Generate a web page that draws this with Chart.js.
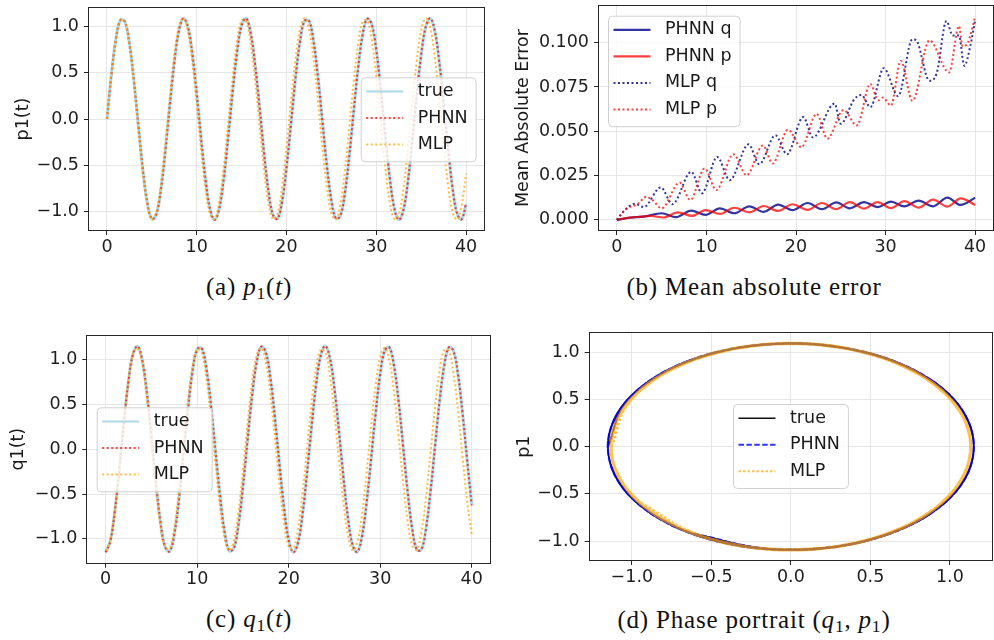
<!DOCTYPE html>
<html>
<head>
<meta charset="utf-8">
<script src="https://cdn.jsdelivr.net/npm/chart.js@4.4.1/dist/chart.umd.min.js"></script>
<style>
  html, body { margin: 0; padding: 0; background: #fff; }
  body { width: 994px; height: 640px; position: relative; overflow: hidden; }
  canvas { position: absolute; }
  .cap { position: absolute; transform: translate(-50%, -50%); font-family: 'Liberation Serif', serif; font-size: 25px; letter-spacing: 0.8px; color: #111; white-space: nowrap; }
  .cap sub { font-size: 0.7em; vertical-align: -0.25em; line-height: 0; }
</style>
</head>
<body>
<canvas id="chartA" width="497" height="262" style="left:0px;top:0px"></canvas>
<canvas id="chartB" width="497" height="262" style="left:497px;top:0px"></canvas>
<canvas id="chartC" width="497" height="275" style="left:0px;top:320px"></canvas>
<canvas id="chartD" width="497" height="275" style="left:497px;top:320px"></canvas>

<div class="cap" style="left:249px;top:287px">(a) <i>p</i><sub>1</sub>(<i>t</i>)</div>
<div class="cap" style="left:754px;top:287px">(b) Mean absolute error</div>
<div class="cap" style="left:249px;top:619px">(c) <i>q</i><sub>1</sub>(<i>t</i>)</div>
<div class="cap" style="left:754px;top:620px">(d) Phase portrait (<i>q</i><sub>1</sub>, <i>p</i><sub>1</sub>)</div>

<script>
// time samples (step 0.5)
const tAxis = [0,0.5,1,1.5,2,2.5,3,3.5,4,4.5,5,5.5,6,6.5,7,7.5,8,8.5,9,9.5,
  10,10.5,11,11.5,12,12.5,13,13.5,14,14.5,15,15.5,16,16.5,17,17.5,18,18.5,19,19.5,
  20,20.5,21,21.5,22,22.5,23,23.5,24,24.5,25,25.5,26,26.5,27,27.5,28,28.5,29,29.5,
  30,30.5,31,31.5,32,32.5,33,33.5,34,34.5,35,35.5,36,36.5,37,37.5,38,38.5,39,39.5,40];

// p1(t)
const trueP1 = [0.000,0.483,0.866,1.069,1.052,0.818,0.414,-0.075,-0.549,-0.909,
  -1.081,-1.030,-0.766,-0.344,0.149,0.612,0.948,1.088,1.003,0.711,
  0.272,-0.223,-0.673,-0.983,-1.090,-0.972,-0.653,-0.199,0.296,0.730,
  1.013,1.087,0.935,0.591,0.125,-0.368,-0.784,-1.038,-1.078,-0.895,
  -0.527,-0.050,0.437,0.834,1.059,1.064,0.850,0.460,-0.025,-0.505,
  -0.880,-1.074,-1.046,-0.801,-0.391,0.100,0.570,0.922,1.084,1.022,
  0.748,0.320,-0.174,-0.633,-0.960,-1.089,-0.993,-0.692,-0.248,0.248,
  0.692,0.993,1.089,0.960,0.633,0.174,-0.320,-0.748,-1.022,-1.084,-0.922];
const phnnP1 = [0.000,0.483,0.866,1.069,1.052,0.818,0.414,-0.075,-0.549,-0.909,
  -1.081,-1.030,-0.766,-0.344,0.149,0.612,0.948,1.088,1.003,0.711,
  0.272,-0.223,-0.673,-0.983,-1.090,-0.972,-0.653,-0.199,0.296,0.730,
  1.013,1.087,0.935,0.591,0.125,-0.368,-0.784,-1.038,-1.078,-0.895,
  -0.527,-0.050,0.437,0.834,1.059,1.064,0.850,0.460,-0.025,-0.505,
  -0.880,-1.074,-1.046,-0.801,-0.391,0.100,0.570,0.922,1.084,1.022,
  0.748,0.320,-0.174,-0.633,-0.960,-1.089,-0.993,-0.692,-0.248,0.248,
  0.692,0.993,1.089,0.960,0.633,0.174,-0.320,-0.748,-1.022,-1.084,-0.915];
const mlpP1 = [0.000,0.488,0.873,1.073,1.046,0.798,0.381,-0.116,-0.589,-0.937,
  -1.087,-1.007,-0.714,-0.270,0.232,0.684,0.991,1.089,0.957,0.622,
  0.155,-0.344,-0.771,-1.034,-1.079,-0.896,-0.523,-0.039,0.452,0.848,
  1.065,1.056,0.824,0.418,-0.077,-0.556,-0.917,-1.084,-1.021,-0.743,
  -0.308,0.193,0.653,0.974,1.090,0.975,0.654,0.194,-0.306,-0.742,
  -1.021,-1.084,-0.918,-0.557,-0.079,0.416,0.823,1.056,1.065,0.849,
  0.454,-0.038,-0.521,-0.895,-1.079,-1.035,-0.772,-0.345,0.154,0.621,
  0.956,1.089,0.992,0.685,0.233,-0.268,-0.713,-1.007,-1.087,-0.938,-0.591];

// q1(t)
const trueQ1 = [-1.150,-1.031,-0.699,-0.223,0.300,0.760,1.064,1.147,0.994,0.635,
  0.145,-0.375,-0.818,-1.091,-1.139,-0.952,-0.567,-0.066,0.449,0.872,
  1.114,1.126,0.905,0.497,-0.013,-0.521,-0.921,-1.131,-1.107,-0.854,
  -0.425,0.092,0.590,0.966,1.142,1.083,0.799,0.350,-0.171,-0.657,
  -1.007,-1.149,-1.053,-0.741,-0.274,0.249,0.720,1.043,1.150,1.019,
  0.678,0.197,-0.325,-0.780,-1.073,-1.145,-0.980,-0.613,-0.118,0.400,
  0.836,1.099,1.135,0.936,0.544,0.040,-0.473,-0.889,-1.120,-1.120,
  -0.888,-0.473,0.040,0.544,0.936,1.135,1.099,0.836,0.400,-0.118,-0.613];
const phnnQ1 = [-1.150,-1.031,-0.699,-0.223,0.300,0.760,1.064,1.147,0.994,0.635,
  0.145,-0.375,-0.818,-1.091,-1.139,-0.952,-0.567,-0.066,0.449,0.872,
  1.114,1.126,0.905,0.497,-0.013,-0.521,-0.921,-1.131,-1.107,-0.854,
  -0.425,0.092,0.590,0.966,1.142,1.083,0.799,0.350,-0.171,-0.657,
  -1.007,-1.149,-1.053,-0.741,-0.274,0.249,0.720,1.043,1.150,1.019,
  0.678,0.197,-0.325,-0.780,-1.073,-1.145,-0.980,-0.613,-0.118,0.400,
  0.836,1.099,1.135,0.936,0.544,0.040,-0.473,-0.889,-1.120,-1.120,
  -0.888,-0.473,0.040,0.544,0.936,1.135,1.099,0.836,0.400,-0.118,-0.625];
const mlpQ1 = [-1.130,-1.010,-0.677,-0.201,0.318,0.770,1.059,1.124,0.951,0.577,
  0.081,-0.432,-0.854,-1.095,-1.104,-0.880,-0.470,0.040,0.541,0.928,
  1.118,1.072,0.799,0.357,-0.160,-0.644,-0.992,-1.129,-1.028,-0.710,
  -0.241,0.279,0.739,1.044,1.127,0.972,0.611,0.122,-0.394,-0.827,
  -1.084,-1.112,-0.905,-0.506,-0.001,0.505,0.904,1.112,1.084,0.828,
  0.396,-0.120,-0.610,-0.971,-1.127,-1.044,-0.741,-0.281,0.239,0.708,
  1.027,1.129,0.992,0.645,0.162,-0.356,-0.798,-1.072,-1.119,-0.929,
  -0.543,-0.042,0.468,0.879,1.104,1.095,0.855,0.434,-0.079,-0.575,-0.950];

// mean absolute error (read at turning points)
const maePhnnQT = [0,1.5,3.0,5.0,6.6,8.3,9.9,11.5,13.1,14.8,16.4,18.0,19.6,21.3,22.9,24.5,26.0,27.6,29.1,30.6,32.1,33.7,35.3,36.9,38.4,40.0];
const maePhnnQ = [0,0.0012,0.0018,0.0037,0.0015,0.0052,0.0028,0.0065,0.0037,0.0076,0.0045,0.0086,0.0055,0.0095,0.0060,0.0098,0.0065,0.0100,0.0072,0.0103,0.0076,0.0108,0.0076,0.0125,0.0084,0.0125];
const maePhnnPT = [0,1.5,3.0,3.8,5.2,6.8,8.4,9.9,11.5,13.1,14.8,16.4,18.0,19.6,21.3,22.9,24.5,26.0,27.6,29.1,30.6,32.1,33.7,35.3,36.9,38.4,40.0];
const maePhnnP = [0,0.0013,0.0019,0.0022,0.0013,0.0042,0.0022,0.0055,0.0033,0.0068,0.0042,0.0078,0.0050,0.0088,0.0056,0.0095,0.0060,0.0100,0.0063,0.0100,0.0066,0.0106,0.0069,0.0114,0.0075,0.0121,0.0084];
const maeMlpQT = [0,0.9,2.0,3.0,4.9,6.2,8.3,9.5,11.2,12.6,14.7,15.9,17.7,19.0,20.8,21.9,24.3,25.0,26.5,27.3,28.3,29.8,31.4,33.0,33.4,34.9,35.7,36.8,37.5,38.2,38.8,39.5,40.0];
const maeMlpQ = [0,0.0056,0.0090,0.0072,0.0183,0.0088,0.0271,0.0150,0.0355,0.0224,0.0426,0.0314,0.0477,0.0370,0.0580,0.0465,0.0656,0.0542,0.0680,0.0705,0.0636,0.0856,0.0698,0.1019,0.1015,0.0785,0.0825,0.1122,0.1040,0.1040,0.0869,0.0990,0.1125];
const maeMlpPT = [0,0.7,1.5,2.2,3.3,4.0,5.0,7.0,8.2,9.8,11.1,13.0,14.5,16.3,17.4,19.1,20.6,22.3,23.5,25.3,26.8,28.3,29.2,29.7,30.6,31.7,33.0,34.9,37.1,38.2,38.6,39.2,40.0];
const maeMlpP = [0,0.0045,0.0075,0.0085,0.0130,0.0110,0.0065,0.0210,0.0112,0.0290,0.0168,0.0370,0.0252,0.0420,0.0318,0.0509,0.0410,0.0598,0.0458,0.0620,0.0533,0.0767,0.0675,0.0690,0.0645,0.0897,0.0672,0.1013,0.0832,0.1094,0.0980,0.1000,0.1145];

// ticks
const timeTicks = [0, 10, 20, 30, 40];
const timeTickLabels = ['0', '10', '20', '30', '40'];
const unitTicks = [-1, -0.5, 0, 0.5, 1];
const unitTickLabels = ['\u22121.0', '\u22120.5', '0.0', '0.5', '1.0'];
const maeTicks = [0, 0.025, 0.05, 0.075, 0.1];
const maeTickLabels = ['0.000', '0.025', '0.050', '0.075', '0.100'];

const FONT_SIZE = 17.5;
Chart.defaults.font.family = "'DejaVu Sans', sans-serif";
Chart.defaults.font.size = FONT_SIZE;
Chart.defaults.color = '#1e1e1e';

function pairs(xs, ys) {
    return xs.map((x, i) => ({ x: x, y: ys[i] }));
}

// black box round the plot area
const frame = {
    id: 'frame',
    afterDatasetsDraw(chart) {
        const { ctx, chartArea: a } = chart;
        const l = Math.round(a.left), t = Math.round(a.top), r = Math.round(a.right), b = Math.round(a.bottom);
        ctx.save();
        ctx.strokeStyle = '#262626';
        ctx.lineWidth = 1;
        ctx.strokeRect(l - 0.5, t - 0.5, r - l + 1, b - t + 1);
        ctx.restore();
    }
};

// legend box drawn inside the axes, like matplotlib
const insideLegend = {
    id: 'insideLegend',
    afterDraw(chart, args, opts) {
        if (!opts || opts.x === undefined) return;
        const ctx = chart.ctx;
        const items = chart.data.datasets;
        ctx.save();
        ctx.font = FONT_SIZE + "px 'DejaVu Sans'";
        const textW = Math.max(...items.map(d => ctx.measureText(d.label).width));
        const rowH = 26.5;
        const w = 57 + textW + 8;
        const h = 14.2 + (items.length - 1) * rowH + 16.8;
        ctx.beginPath();
        if (ctx.roundRect) ctx.roundRect(opts.x + 0.5, opts.y + 0.5, w, h, 4);
        else ctx.rect(opts.x + 0.5, opts.y + 0.5, w, h);
        ctx.fillStyle = 'rgba(255,255,255,0.8)';
        ctx.fill();
        ctx.strokeStyle = '#d0d0d0';
        ctx.lineWidth = 1;
        ctx.stroke();
        items.forEach((d, i) => {
            const cy = opts.y + 14.2 + i * rowH;
            ctx.beginPath();
            ctx.setLineDash(d.borderDash || []);
            ctx.strokeStyle = d.borderColor;
            ctx.lineWidth = d.legendWidth || d.borderWidth;
            ctx.moveTo(opts.x + 5.5, cy);
            ctx.lineTo(opts.x + 42.5, cy);
            ctx.stroke();
            ctx.setLineDash([]);
            ctx.fillStyle = '#1a1a1a';
            ctx.textBaseline = 'middle';
            ctx.fillText(d.label, opts.x + 57, cy);
        });
        ctx.restore();
    }
};

function makeChart(id, datasets, o) {
    const gridOpts = { color: '#e6e6e6', lineWidth: 1, tickColor: '#262626', tickLength: 5, tickWidth: 1 };
    return new Chart(document.getElementById(id), {
        type: 'line',
        data: { datasets: datasets },
        options: {
            responsive: false,
            animation: false,
            devicePixelRatio: 1,
            events: [],
            layout: { padding: o.pad },
            elements: { point: { radius: 0 } },
            plugins: {
                legend: { display: false },
                tooltip: { enabled: false },
                insideLegend: o.legend
            },
            scales: {
                x: {
                    type: 'linear',
                    min: o.xMin,
                    max: o.xMax,
                    afterBuildTicks: s => { s.ticks = o.xTicks.map(v => ({ value: v })); },
                    afterFit: s => { s.height = o.xH; s.paddingLeft = 0; s.paddingRight = 0; },
                    ticks: { autoSkip: false, maxRotation: 0, minRotation: 0, padding: 1.5, callback: (v, i) => o.xLabels[i] },
                    grid: gridOpts,
                    border: { display: false }
                },
                y: {
                    type: 'linear',
                    min: o.yMin,
                    max: o.yMax,
                    afterBuildTicks: s => { s.ticks = o.yTicks.map(v => ({ value: v })); },
                    afterFit: s => { s.width = o.yW; s.paddingTop = 0; s.paddingBottom = 0; },
                    ticks: { autoSkip: false, padding: 5, callback: (v, i) => o.yLabels[i] },
                    grid: gridOpts,
                    border: { display: false },
                    title: { display: true, text: o.yTitle, color: '#1a1a1a', font: { size: FONT_SIZE }, padding: { top: o.titlePad, bottom: 0 } }
                }
            }
        },
        plugins: [frame, insideLegend]
    });
}

const dotRed = 'rgba(255,0,0,0.75)';
const dotOrange = 'rgba(255,165,0,0.75)';

// (a) p1(t)
makeChart('chartA', [
    { label: 'true', data: pairs(tAxis, trueP1), borderColor: '#add8e6', borderWidth: 3, legendWidth: 2, tension: 0.4, order: 3 },
    { label: 'PHNN', data: pairs(tAxis, phnnP1), borderColor: dotRed, borderWidth: 2, borderDash: [2, 2.5], tension: 0.4, order: 2 },
    { label: 'MLP', data: pairs(tAxis, mlpP1), borderColor: dotOrange, borderWidth: 2, borderDash: [2, 2.5], tension: 0.4, order: 1 }
], {
    pad: { top: 8, right: 13, left: 0, bottom: 0 }, xH: 32, yW: 89,
    xMin: -2, xMax: 42, xTicks: timeTicks, xLabels: timeTickLabels,
    yMin: -1.2, yMax: 1.2, yTicks: unitTicks, yLabels: unitTickLabels,
    yTitle: 'p1(t)', titlePad: 12.5,
    legend: { x: 360.7, y: 77.3 }
});

// (b) mean absolute error
makeChart('chartB', [
    { label: 'PHNN q', data: pairs(maePhnnQT, maePhnnQ), borderColor: 'rgba(0,0,139,0.8)', borderWidth: 2.2, cubicInterpolationMode: 'monotone', order: 4 },
    { label: 'PHNN p', data: pairs(maePhnnPT, maePhnnP), borderColor: 'rgba(255,0,0,0.75)', borderWidth: 2.2, cubicInterpolationMode: 'monotone', order: 3 },
    { label: 'MLP q', data: pairs(maeMlpQT, maeMlpQ), borderColor: 'rgba(0,0,139,0.8)', borderWidth: 2, borderDash: [2, 2.5], cubicInterpolationMode: 'monotone', order: 2 },
    { label: 'MLP p', data: pairs(maeMlpPT, maeMlpP), borderColor: 'rgba(255,0,0,0.75)', borderWidth: 2, borderDash: [2, 2.5], cubicInterpolationMode: 'monotone', order: 1 }
], {
    pad: { top: 6, right: 1, left: 0, bottom: 0 }, xH: 32, yW: 102,
    xMin: -2, xMax: 42, xTicks: timeTicks, xLabels: timeTickLabels,
    yMin: -0.00575, yMax: 0.1207, yTicks: maeTicks, yLabels: maeTickLabels,
    yTitle: 'Mean Absolute Error', titlePad: 15.5,
    legend: { x: 111, y: 15.7 }
});

// (c) q1(t)
makeChart('chartC', [
    { label: 'true', data: pairs(tAxis, trueQ1), borderColor: '#add8e6', borderWidth: 3, legendWidth: 2, tension: 0.4, order: 3 },
    { label: 'PHNN', data: pairs(tAxis, phnnQ1), borderColor: dotRed, borderWidth: 2, borderDash: [2, 2.5], tension: 0.4, order: 2 },
    { label: 'MLP', data: pairs(tAxis, mlpQ1), borderColor: dotOrange, borderWidth: 2, borderDash: [2, 2.5], tension: 0.4, order: 1 }
], {
    pad: { top: 15.7, right: 7, left: 0, bottom: 0 }, xH: 32.3, yW: 87.3,
    xMin: -2, xMax: 42, xTicks: timeTicks, xLabels: timeTickLabels,
    yMin: -1.265, yMax: 1.265, yTicks: unitTicks, yLabels: unitTickLabels,
    yTitle: 'q1(t)', titlePad: 7.8,
    legend: { x: 96.7, y: 87.3 }
});

// (d) phase portrait
makeChart('chartD', [
    { label: 'true', data: pairs(trueQ1, trueP1), borderColor: '#111', borderWidth: 1.5, tension: 0.4, order: 3 },
    { label: 'PHNN', data: pairs(phnnQ1, phnnP1), borderColor: 'rgba(0,0,255,0.8)', borderWidth: 2, borderDash: [5.5, 2.4], tension: 0.4, order: 2 },
    { label: 'MLP', data: pairs(mlpQ1, mlpP1), borderColor: 'rgba(255,165,0,0.7)', borderWidth: 3, legendWidth: 2, borderDash: [2.5, 2], tension: 0.4, order: 1 }
], {
    pad: { top: 13.3, right: 2, left: 0, bottom: 0 }, xH: 35, yW: 92.7,
    xMin: -1.265, xMax: 1.265, xTicks: unitTicks, xLabels: unitTickLabels,
    yMin: -1.2, yMax: 1.2, yTicks: unitTicks, yLabels: unitTickLabels,
    yTitle: 'p1', titlePad: 17,
    legend: { x: 236, y: 84 }
});
</script>
</body>
</html>
